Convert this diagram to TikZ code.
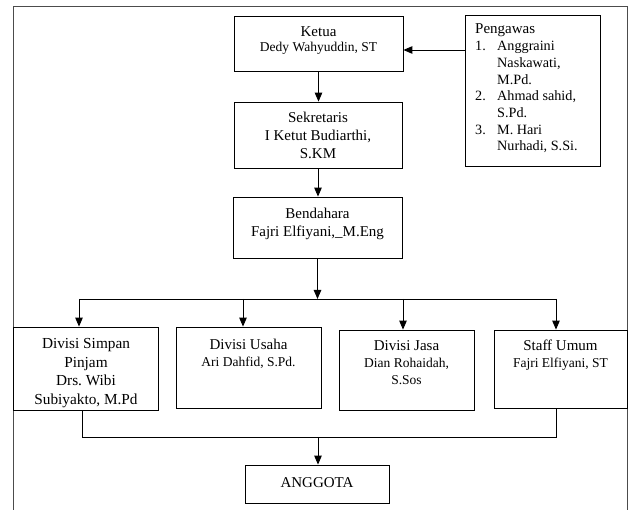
\documentclass[tikz,border=0pt]{standalone}
\usepackage{fontspec}
\setmainfont{Liberation Serif}
\usetikzlibrary{arrows.meta}
\frenchspacing
\newcommand{\nmf}{\fontsize{13.5}{15}\selectfont}
\newcommand{\rowsc}[3]{\fontsize{#1}{#2}\selectfont\begin{tabular}[t]{@{}c@{}}#3\end{tabular}}
\begin{document}
\begin{tikzpicture}[x=1pt,y=-1pt,
  box/.style={draw=black, line width=0.8pt, inner sep=0pt},
  lbl/.style={inner sep=0pt, anchor=base},
  arr/.style={draw=black, line width=0.9pt, -{Triangle[length=9pt,width=7.5pt]}},
  ln/.style={draw=black, line width=0.8pt},
  frm/.style={draw=black!70, line width=0.8pt}]
\useasboundingbox (0,0) rectangle (632,510);
\draw[frm] (13,510) -- (13,6) -- (627,6) -- (627,510);

% boxes
\node[box, minimum width=169pt, minimum height=55pt] (ketua) at (318.5,43.5) {};
\node[box, minimum width=168pt, minimum height=66pt] (sek) at (318,135) {};
\node[box, minimum width=169pt, minimum height=61pt] (bend) at (317.5,227.5) {};
\node[box, minimum width=135pt, minimum height=151pt] (peng) at (532.5,90.5) {};
\node[box, minimum width=145pt, minimum height=83pt] (simpan) at (85.5,368.5) {};
\node[box, minimum width=145pt, minimum height=81pt] (usaha) at (248.5,367.5) {};
\node[box, minimum width=135pt, minimum height=80pt] (jasa) at (406.5,370) {};
\node[box, minimum width=133pt, minimum height=78pt] (staff) at (560.5,369) {};
\node[box, minimum width=144pt, minimum height=38pt] (anggota) at (317,484) {};

% texts
\node[lbl] (ketuaT) at (318.5,37) {\rowsc{15}{15}{Ketua\\ \nmf Dedy Wahyuddin, ST}};
\node[lbl] (sekT) at (318,123) {\rowsc{15}{18}{Sekretaris\\ I Ketut Budiarthi,\\ S.KM}};
\node[lbl] (bendT) at (317.5,219) {\rowsc{15}{18}{Bendahara\\ Fajri Elfiyani,\_M.Eng}};
\node[lbl] (simpanT) at (86,349) {\rowsc{15.3}{18.5}{Divisi Simpan\\ Pinjam\\ Drs. Wibi\\ Subiyakto, M.Pd}};
\node[lbl] (usahaT) at (248.5,350) {\rowsc{15}{17}{Divisi Usaha\\ \nmf Ari Dahfid, S.Pd.}};
\node[lbl] (jasaT) at (406.5,351) {\rowsc{15}{17}{Divisi Jasa\\ \nmf Dian Rohaidah,\\ \nmf S.Sos}};
\node[lbl] (staffT) at (560.5,351) {\rowsc{15}{17}{Staff Umum\\ \nmf Fajri Elfiyani, ST}};
\node[lbl] (anggotaT) at (317,487) {\fontsize{15}{17}\selectfont ANGGOTA};
\node[inner sep=0pt, anchor=base west] (pengT) at (475,34) {\fontsize{14.2}{16.7}\selectfont
  \begin{tabular}[t]{@{}p{22pt}@{}l@{}}
  \multicolumn{2}{@{}l@{}}{\fontsize{15}{16.7}\selectfont Pengawas}\\
  1. & Anggraini\\
     & Naskawati,\\
     & M.Pd.\\
  2. & Ahmad sahid,\\
     & S.Pd.\\
  3. & M. Hari\\
     & Nurhadi, S.Si.
  \end{tabular}};

% connectors
\draw[arr] (ketua.south) -- (ketua.south |- sek.north);
\coordinate (k50) at ([yshift=-6.5pt]ketua.east);
\draw[arr] (peng.west |- k50) -- (k50);
\draw[arr] (sek.south) -- (sek.south |- bend.north);
\coordinate (busC) at (317.5,299);
\draw[arr] (bend.south) -- (busC);
\coordinate (b1) at (79,299);
\coordinate (b2) at (243,299);
\coordinate (b3) at (403,299);
\coordinate (b4) at (556,299);
\draw[ln] (b1) -- (b4);
\draw[arr] (b1) -- (b1 |- simpan.north);
\draw[arr] (b2) -- (b2 |- usaha.north);
\draw[arr] (b3) -- (b3 |- jasa.north);
\draw[arr] (b4) -- (b4 |- staff.north);
\coordinate (c1) at (82,437);
\coordinate (c4) at (556,437);
\coordinate (cm) at (318,437);
\draw[ln] (c1 |- simpan.south) -- (c1) -- (c4) -- (c4 |- staff.south);
\draw[arr] (cm) -- (cm |- anggota.north);
\end{tikzpicture}
\end{document}
